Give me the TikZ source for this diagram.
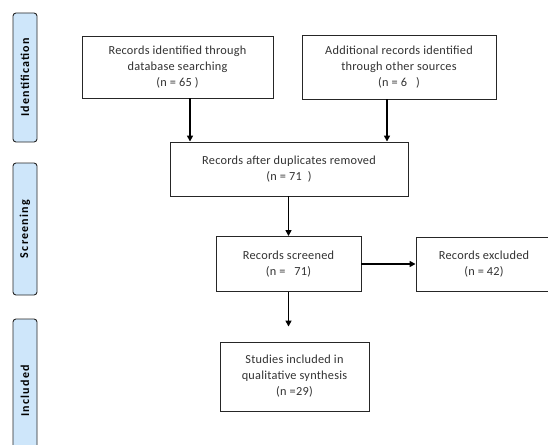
\documentclass[tikz,border=0pt]{standalone}
\usepackage{fontspec}
\setmainfont{Carlito}
\usetikzlibrary{arrows.meta}

\definecolor{barblue}{RGB}{206,230,250}
\definecolor{textgray}{RGB}{50,50,50}

\tikzset{
  box/.style={draw=black!85, line width=0.9pt, align=center, text=textgray,
    font=\fontsize{12.3}{16}\selectfont\addfontfeature{LetterSpace=2}, inner sep=2pt},
  sidebar/.style={draw=black!85, line width=0.9pt, fill=barblue, rounded corners=3pt,
    rotate=90, minimum height=24pt,
    font=\fontsize{12}{12}\selectfont\bfseries\addfontfeature{LetterSpace=10}},
  arr/.style={line width=1.6pt, -{Triangle[length=6pt,width=6pt]}}
}

\begin{document}
\begin{tikzpicture}[x=1pt, y=-1pt]
\useasboundingbox (0, 0) rectangle (548, 444);

% Side bars
\node [sidebar, minimum width=129pt] (idbar) at (25, 77.5) {Identification};
\node [sidebar, minimum width=132pt] (scrbar) at (25, 229) {Screening};
\node [sidebar, minimum width=144pt] (incbar) at (25, 391) {Included};

% Identification
\node [box, minimum width=191pt, minimum height=62pt] (dbrec) at (177.5, 67)
  {Records identified through\\database searching\\(n = 65 )};
\node [box, minimum width=194pt, minimum height=64pt] (otherrec) at (399, 67)
  {Additional records identified\\through other sources\\(n = 6 \ \ )};

% Screening
\node [box, minimum width=238pt, minimum height=54pt] (nodup) at (289, 169)
  {Records after duplicates removed\\(n = 71 \ )};
\node [box, minimum width=145pt, minimum height=55pt] (screened) at (288.5, 264)
  {Records screened\\(n = \ \ 71)};
\node [box, minimum width=136pt, minimum height=54pt] (excluded) at (484, 264)
  {Records excluded\\(n = 42)};

% Included
\node [box, minimum width=149pt, minimum height=69pt] (included) at (294.5, 376.5)
  {Studies included in\\qualitative synthesis\\(n =29)};

% Arrows
\draw [arr] ([xshift=12.5pt]dbrec.south) -- ([xshift=12.5pt]dbrec.south |- nodup.north);
\draw [arr] ([xshift=-12pt]otherrec.south) -- ([xshift=-12pt]otherrec.south |- nodup.north);
\draw [arr] (nodup.south -| screened.north) -- (screened.north);
\draw [arr] (screened.east) -- (excluded.west);
\draw [arr, shorten >=15pt] (screened.south) -- (screened.south |- included.north);
\end{tikzpicture}
\end{document}
